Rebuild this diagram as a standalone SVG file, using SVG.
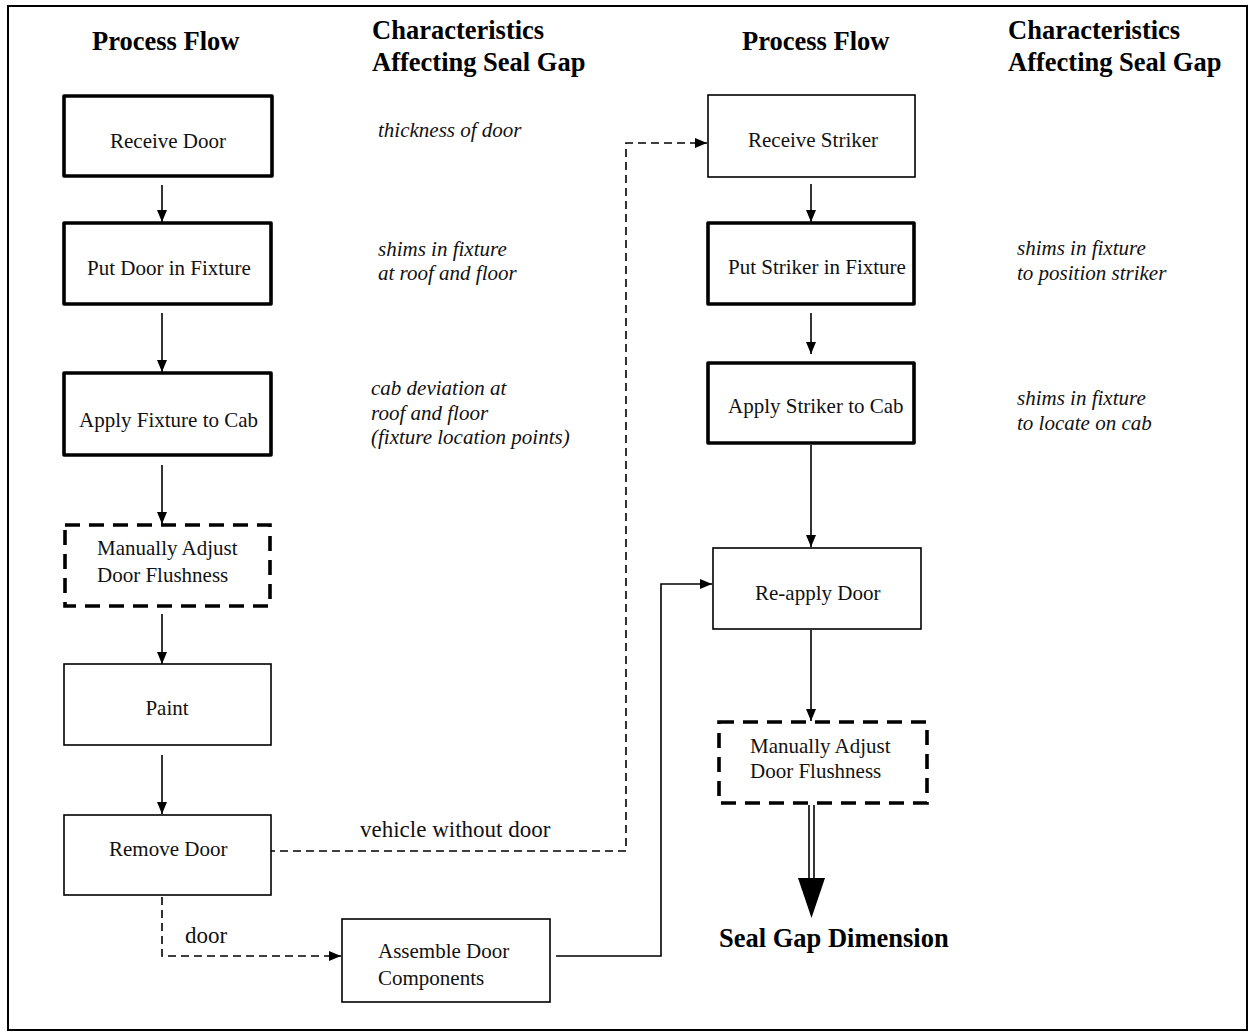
<svg xmlns="http://www.w3.org/2000/svg" width="1252" height="1036" viewBox="0 0 1252 1036">
  <style>
    .frame { fill: none; stroke: #000; stroke-width: 2; }
    .box { fill: #fff; stroke: #000; stroke-width: 1.6; }
    .thick { fill: #fff; stroke: #000; stroke-width: 3.6; stroke-linejoin: round; }
    .dashbox { fill: #fff; stroke: #000; stroke-width: 3.6; stroke-dasharray: 15 9; }
    .head { font-family: "Liberation Serif", "Times New Roman", serif; font-weight: bold; font-size: 26.5px; fill: #000; }
    .label { font-family: "Liberation Serif", "Times New Roman", serif; font-size: 21px; fill: #111; }
    .note { font-family: "Liberation Serif", "Times New Roman", serif; font-style: italic; font-size: 21px; fill: #111; }
    .flow { font-family: "Liberation Serif", "Times New Roman", serif; font-size: 23px; fill: #111; }
    .link { fill: none; stroke: #000; stroke-width: 1.6; }
    .dash { fill: none; stroke: #000; stroke-width: 1.6; stroke-dasharray: 8 5; }
  </style>
  <defs>
    <marker id="arrow" viewBox="0 0 12 10" refX="12" refY="5" markerWidth="12" markerHeight="10" markerUnits="userSpaceOnUse" orient="auto">
      <path d="M0,0 L12,5 L0,10 Z" fill="#000"/>
    </marker>
  </defs>

  <rect class="frame" x="8" y="6" width="1239" height="1024"/>

  <!-- column headings -->
  <g id="headings">
    <text class="head" x="92" y="50">Process Flow</text>
    <text class="head" x="372" y="39">Characteristics</text>
    <text class="head" x="372" y="71">Affecting Seal Gap</text>
    <text class="head" x="742" y="50">Process Flow</text>
    <text class="head" x="1008" y="39">Characteristics</text>
    <text class="head" x="1008" y="71">Affecting Seal Gap</text>
  </g>

  <!-- characteristics notes -->
  <g id="notes">
    <text class="note" x="378" y="137">thickness of door</text>
    <text class="note" x="378" y="256">shims in fixture</text>
    <text class="note" x="378" y="280">at roof and floor</text>
    <text class="note" x="371" y="395">cab deviation at</text>
    <text class="note" x="371" y="420">roof and floor</text>
    <text class="note" x="371" y="444">(fixture location points)</text>
    <text class="note" x="1017" y="255">shims in fixture</text>
    <text class="note" x="1017" y="280">to position striker</text>
    <text class="note" x="1017" y="405">shims in fixture</text>
    <text class="note" x="1017" y="430">to locate on cab</text>
  </g>

  <!-- connectors -->
  <g id="connectors">
    <line class="link" x1="162" y1="185" x2="162" y2="222" marker-end="url(#arrow)"/>
    <line class="link" x1="162" y1="313" x2="162" y2="372" marker-end="url(#arrow)"/>
    <line class="link" x1="162" y1="465" x2="162" y2="524" marker-end="url(#arrow)"/>
    <line class="link" x1="162" y1="614" x2="162" y2="664" marker-end="url(#arrow)"/>
    <line class="link" x1="162" y1="755" x2="162" y2="814" marker-end="url(#arrow)"/>
    <line class="link" x1="811" y1="184" x2="811" y2="222" marker-end="url(#arrow)"/>
    <line class="link" x1="811" y1="313" x2="811" y2="354" marker-end="url(#arrow)"/>
    <line class="link" x1="811" y1="445" x2="811" y2="547" marker-end="url(#arrow)"/>
    <line class="link" x1="811" y1="630" x2="811" y2="721" marker-end="url(#arrow)"/>
    <path class="dash" d="M267,851 H626 V143 H707" marker-end="url(#arrow)"/>
    <path class="dash" d="M162,897 V956 H341" marker-end="url(#arrow)"/>
    <path class="link" d="M556,956 H661 V584 H712" marker-end="url(#arrow)"/>
    <!-- double-line result arrow -->
    <line class="link" x1="809" y1="805" x2="809" y2="880"/>
    <line class="link" x1="814" y1="805" x2="814" y2="880"/>
    <path d="M798,878 L825,878 L811.5,918 Z" fill="#000"/>
    <text class="flow" x="360" y="837">vehicle without door</text>
    <text class="flow" x="185" y="943">door</text>
  </g>

  <!-- left process flow -->
  <g id="receive-door">
    <rect class="thick" x="64" y="96" width="208" height="80"/>
    <text class="label" x="110" y="148">Receive Door</text>
  </g>
  <g id="put-door-in-fixture">
    <rect class="thick" x="64" y="223" width="207" height="81"/>
    <text class="label" x="87" y="275">Put Door in Fixture</text>
  </g>
  <g id="apply-fixture-to-cab">
    <rect class="thick" x="64" y="373" width="207" height="82"/>
    <text class="label" x="79" y="427">Apply Fixture to Cab</text>
  </g>
  <g id="adjust-flushness-1">
    <rect class="dashbox" x="65" y="525" width="205" height="81"/>
    <text class="label" x="97" y="555">Manually Adjust</text>
    <text class="label" x="97" y="582">Door Flushness</text>
  </g>
  <g id="paint">
    <rect class="box" x="64" y="664" width="207" height="81"/>
    <text class="label" x="167" y="715" text-anchor="middle">Paint</text>
  </g>
  <g id="remove-door">
    <rect class="box" x="64" y="815" width="207" height="80"/>
    <text class="label" x="109" y="856">Remove Door</text>
  </g>
  <g id="assemble-door-components">
    <rect class="box" x="342" y="919" width="208" height="83"/>
    <text class="label" x="378" y="958">Assemble Door</text>
    <text class="label" x="378" y="985">Components</text>
  </g>

  <!-- right process flow -->
  <g id="receive-striker">
    <rect class="box" x="708" y="95" width="207" height="82"/>
    <text class="label" x="748" y="147">Receive Striker</text>
  </g>
  <g id="put-striker-in-fixture">
    <rect class="thick" x="708" y="223" width="206" height="81"/>
    <text class="label" x="728" y="274">Put Striker in Fixture</text>
  </g>
  <g id="apply-striker-to-cab">
    <rect class="thick" x="708" y="363" width="206" height="80"/>
    <text class="label" x="728" y="413">Apply Striker to Cab</text>
  </g>
  <g id="reapply-door">
    <rect class="box" x="713" y="548" width="208" height="81"/>
    <text class="label" x="755" y="600">Re-apply Door</text>
  </g>
  <g id="adjust-flushness-2">
    <rect class="dashbox" x="719" y="722" width="208" height="81"/>
    <text class="label" x="750" y="753">Manually Adjust</text>
    <text class="label" x="750" y="778">Door Flushness</text>
  </g>
  <g id="seal-gap-dimension">
    <text class="head" x="719" y="947">Seal Gap Dimension</text>
  </g>
</svg>
